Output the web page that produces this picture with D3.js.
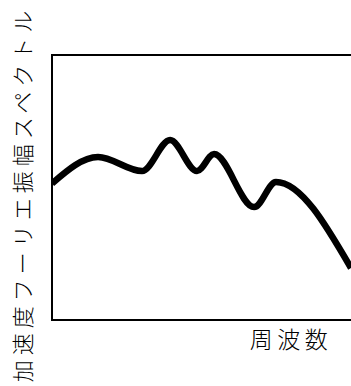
<!DOCTYPE html>
<html>
<head>
<meta charset="utf-8">
<script src="https://cdn.jsdelivr.net/npm/d3@7"></script>
<style>
  html, body { margin: 0; padding: 0; background: #fff; overflow: hidden; }
  svg { display: block; }
  text { font-family: "Noto Sans CJK JP", sans-serif; fill: #000; }
</style>
</head>
<body>
<script>
// Schematic acceleration Fourier amplitude spectrum (arbitrary units)
const frequency = [0, 15.4, 30.1, 39.5, 48.5, 54.2, 67.6, 74.9, 100];
const amplitude = [51.5, 61.5, 56.2, 67.9, 56.2, 62.6, 42.6, 52.1, 19.6];

const xLabel = "周波数";
const yLabel = "加速度フーリエ振幅スペクトル";

const width = 351, height = 386;
const margin = { left: 52, top: 55, right: 0, bottom: 66 };

const svg = d3.select("body").append("svg")
  .attr("width", width)
  .attr("height", height);

const x = d3.scaleLinear().domain([0, 100]).range([margin.left, width - margin.right]);
const y = d3.scaleLinear().domain([0, 100]).range([height - margin.bottom, margin.top]);

svg.append("defs").append("clipPath").attr("id", "plot-clip")
  .append("rect")
  .attr("x", x(0)).attr("y", y(100))
  .attr("width", x(100) - x(0)).attr("height", y(0) - y(100));

// spectrum curve
const line = d3.line()
  .x((d, i) => x(frequency[i]))
  .y(d => y(d))
  .curve(d3.curveMonotoneX);

svg.append("path")
  .datum(amplitude)
  .attr("clip-path", "url(#plot-clip)")
  .attr("d", line)
  .attr("fill", "none")
  .attr("stroke", "#000")
  .attr("stroke-width", 6.5)
  .attr("stroke-linejoin", "round");

// frame: left, top and bottom edges (open on the right)
const frame = d3.path();
frame.moveTo(x(100) + 1, y(100));
frame.lineTo(x(0), y(100));
frame.lineTo(x(0), y(0));
frame.lineTo(x(100) + 1, y(0));
svg.append("path")
  .attr("d", frame.toString())
  .attr("fill", "none")
  .attr("stroke", "#000")
  .attr("stroke-width", 2);

// axis titles
svg.append("text")
  .attr("x", 291)
  .attr("y", 348)
  .attr("text-anchor", "middle")
  .style("font-size", "23px")
  .style("font-weight", 300)
  .style("letter-spacing", "4.5px")
  .text(xLabel);

svg.append("text")
  .attr("transform", "translate(31,194) rotate(-90)")
  .attr("text-anchor", "middle")
  .style("font-size", "22px")
  .style("font-weight", 300)
  .style("letter-spacing", "5px")
  .text(yLabel);
</script>
</body>
</html>
